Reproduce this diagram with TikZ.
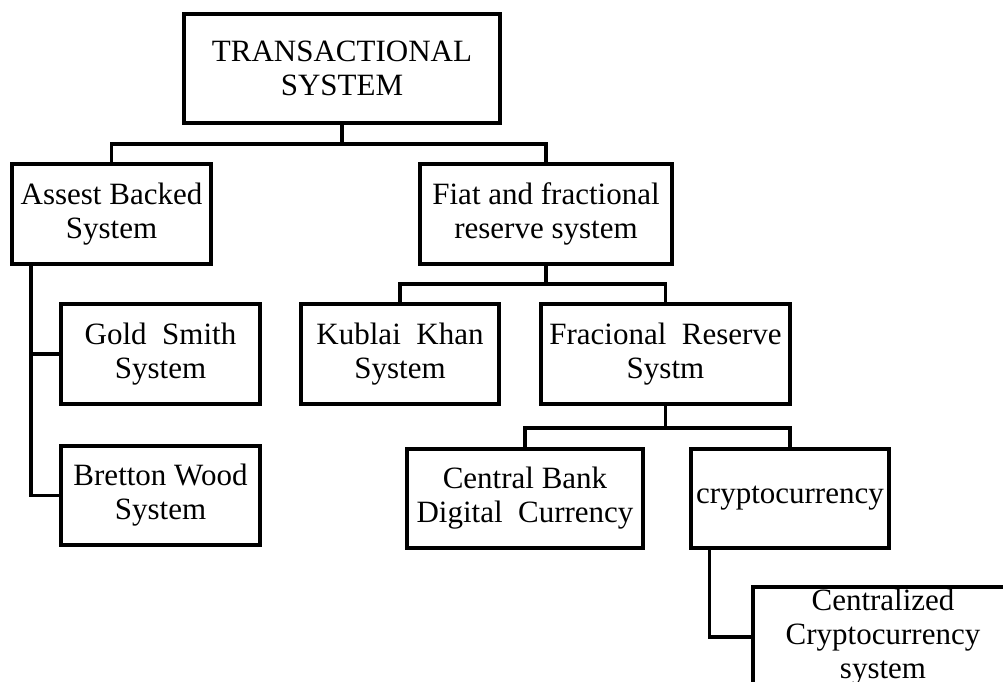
\documentclass[tikz,border=0pt]{standalone}
\usepackage{fontspec}
\setmainfont{Liberation Serif}
\begin{document}
\begin{tikzpicture}[x=1pt,y=1pt,
  box/.style={draw=black, line width=3.2pt, rectangle, align=center, inner sep=0pt,
    font=\fontsize{31}{34}\selectfont, minimum height=100pt},
  conn/.style={draw=black, line width=3.2pt, line join=miter}]
\useasboundingbox (0,0) rectangle (1003,-681);
\clip (0,0) rectangle (1003,-681);
\node[box, minimum width=316pt, minimum height=109pt] (top) at (342,-68.5) {TRANSACTIONAL\\SYSTEM};
\node[box, minimum width=199pt] (assest) at (111.5,-214) {Assest Backed\\System};
\node[box, minimum width=252pt] (fiat) at (546,-214) {Fiat and fractional\\reserve system};
\node[box, minimum width=199pt] (gold) at (160.5,-354) {Gold\ \ Smith\\System};
\node[box, minimum width=199pt, minimum height=99pt] (bretton) at (160.5,-495.5) {Bretton Wood\\System};
\node[box, minimum width=198pt] (kublai) at (400,-354) {Kublai\ \ Khan\\System};
\node[box, minimum width=249pt] (fracional) at (665.5,-354) {Fracional\ \ Reserve\\Systm};
\node[box, minimum width=236pt, minimum height=99pt] (central) at (525,-498.5) {Central Bank\\Digital\ \ Currency};
\node[box, minimum width=198pt, minimum height=99pt] (crypto) at (790,-498.5) {cryptocurrency};
\node[box, minimum width=260pt] (centralized) at (883,-637) {Centralized\\Cryptocurrency\\system};
\coordinate (j1) at (342,-144);
\coordinate (j2) at (546,-284);
\coordinate (j3) at (665.5,-428);
\draw[conn] (top.south) -- (j1);
\draw[conn] (assest.north) |- (j1) -| (fiat.north);
\draw[conn] (fiat.south) -- (j2);
\draw[conn] (kublai.north) |- (j2) -| (fracional.north);
\draw[conn] (fracional.south) -- (j3);
\draw[conn] (central.north) |- (j3) -| (crypto.north);
\draw[conn] ([xshift=20.5pt]assest.south west) |- (bretton.west);
\draw[conn] (gold.west) -- ++(-29,0);
\draw[conn] ([xshift=20pt]crypto.south west) |- (centralized.west);
\end{tikzpicture}
\end{document}
